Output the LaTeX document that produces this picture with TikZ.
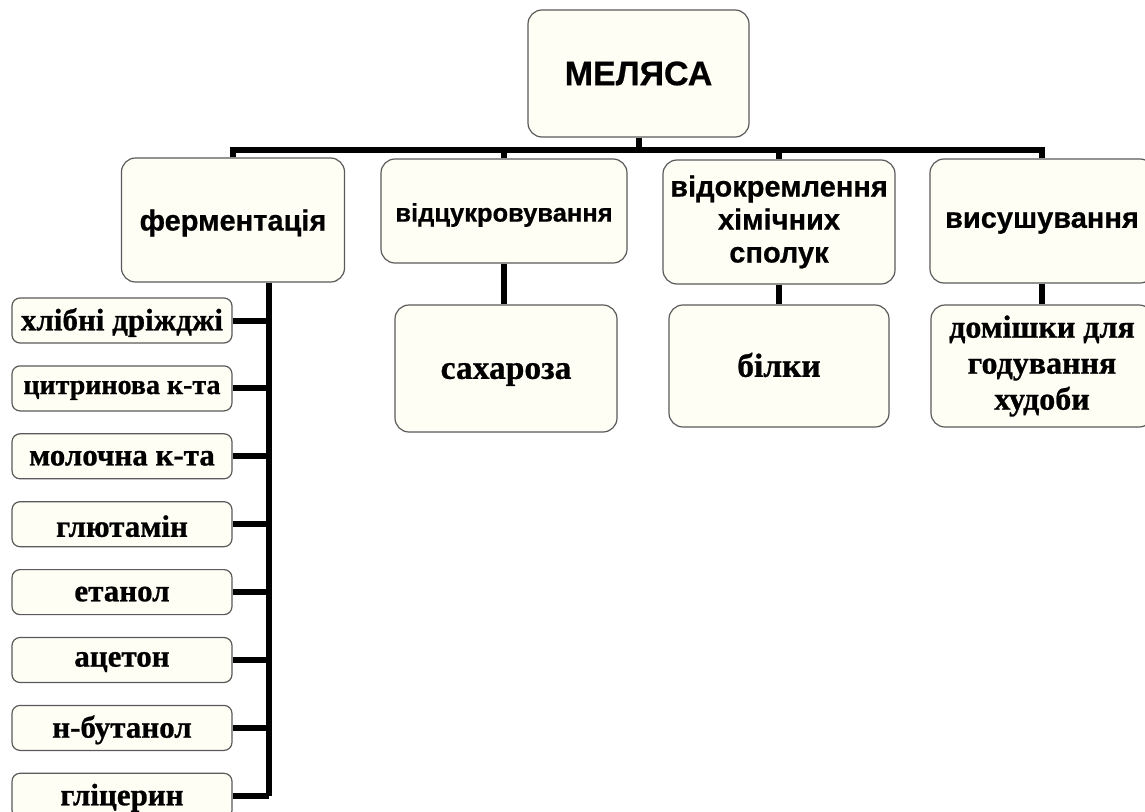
\documentclass[tikz,border=0pt]{standalone}
\usepackage{fontspec}
\setmainfont{Liberation Serif}[BoldFeatures={FakeBold=0.8}]
\newfontfamily\headfont{Liberation Sans}[BoldFeatures={FakeBold=0.6}]
% move the ink of a label without changing the size of its box
\newcommand{\nudge}[2]{\raisebox{#1}[\height][\depth]{#2}}
\begin{document}
\begin{tikzpicture}[x=1pt,y=-1pt,
  box/.style={draw=boxline, fill=boxfill, line width=1.2pt, rounded corners=14pt,
    inner sep=0pt, align=center, text=black},
  smallbox/.style={box, rounded corners=8pt, minimum width=220pt, minimum height=45pt,
    font=\bfseries\fontsize{31}{34}\selectfont},
  headbox/.style={box, font=\headfont\bfseries\fontsize{29}{33}\selectfont},
  leafbox/.style={box, font=\bfseries\fontsize{33.5}{36}\selectfont},
  link/.style={line width=6pt, draw=black, line cap=butt, line join=miter}]
\definecolor{boxfill}{HTML}{FFFEF5}
\definecolor{boxline}{HTML}{5A5A5A}
\useasboundingbox (0,0) rectangle (1145,811);
\clip (0,0) rectangle (1145,811);
\fill[white] (0,0) rectangle (1145,811);

% top level
\node[headbox, minimum width=221pt, minimum height=127pt,
      font=\headfont\bfseries\fontsize{34}{38}\selectfont] (root) at (638.5,73.5) {МЕЛЯСА};

% processes
\node[headbox, minimum width=223pt, minimum height=124pt] (ferm) at (233,220) {\nudge{-3pt}{ферментація}};
\node[headbox, minimum width=246pt, minimum height=104pt,
      font=\headfont\bfseries\fontsize{25.5}{30}\selectfont] (desug) at (504,211) {\nudge{-4pt}{відцукровування}};
\node[headbox, minimum width=232pt, minimum height=124pt] (sep) at (779,222) {відокремлення\\хімічних\\сполук};
\node[headbox, minimum width=224pt, minimum height=124pt] (dry) at (1042,221) {\nudge{-2pt}{висушування}};

% products
\node[leafbox, minimum width=222pt, minimum height=127pt] (sucrose) at (506,368.5) {\nudge{-6pt}{сахароза}};
\node[leafbox, minimum width=220pt, minimum height=122pt] (protein) at (779,366) {\nudge{1pt}{білки}};
\node[leafbox, minimum width=222pt, minimum height=122pt,
      font=\bfseries\fontsize{32}{36}\selectfont] (feed) at (1042,366) {домішки для\\годування\\худоби};

% fermentation products
\foreach \i/\t in {0/хлібні дріжджі, 2/молочна к-та, 3/глютамін,
                   4/етанол, 5/ацетон, 6/н-бутанол, 7/гліцерин}{
  \node[smallbox] (f\i) at (122,320.5+67.9*\i) {\nudge{-2pt}{\t}};
}
\node[smallbox, font=\bfseries\fontsize{28}{32}\selectfont] (f1) at (122,320.5+67.9) {\nudge{-2pt}{цитринова к-та}};

% connectors
\coordinate (bus) at (0,150);
\coordinate (trunk) at (269,0);
\draw[link] (root.south) -- (root.south |- bus);
\draw[link] (ferm.north) -- (ferm.north |- bus) -- (dry.north |- bus) -- (dry.north);
\draw[link] (desug.north) -- (desug.north |- bus);
\draw[link] (sep.north) -- (sep.north |- bus);
\draw[link] (desug.south) -- (desug.south |- sucrose.north);
\draw[link] (sep.south) -- (protein.north);
\draw[link] (dry.south) -- (feed.north);
\draw[link] (ferm.south -| trunk) -- (f7.east -| trunk);
\foreach \i in {0,...,7}{
  \draw[link] (f\i.east) -- (f\i.east -| trunk);
}
\end{tikzpicture}
\end{document}
